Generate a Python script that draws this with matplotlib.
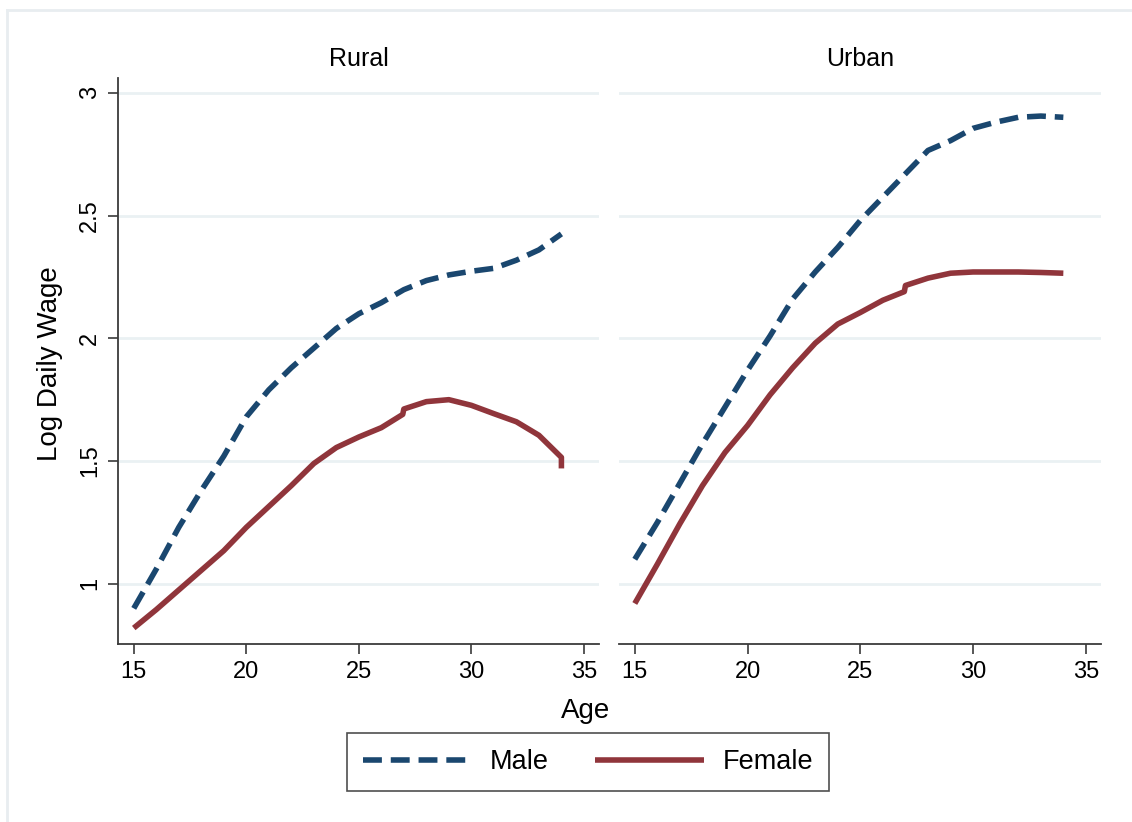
#plot log daily wage by age, rural vs urban, male vs female
import matplotlib
matplotlib.use('Agg')
import matplotlib.pyplot as plt
from matplotlib.lines import Line2D

plt.rcParams['font.family'] = ['Liberation Sans', 'DejaVu Sans']

#----------------------------------------------
# values
#----------------------------------------------
rural_age_m = [15, 16, 17, 18, 19, 20, 21, 22, 23, 24, 25, 26, 27, 28, 29, 30, 31, 32, 33, 34]
rural_male = [0.90, 1.06, 1.23, 1.38, 1.52, 1.68, 1.79, 1.88, 1.96, 2.04, 2.10, 2.145, 2.198,
              2.235, 2.258, 2.273, 2.285, 2.318, 2.36, 2.425]

rural_age_f = [15, 16, 17, 18, 19, 20, 21, 22, 23, 24, 25, 26, 26.95, 27, 28, 29, 30, 31, 32, 33, 34, 34]
rural_female = [0.82, 0.895, 0.975, 1.055, 1.135, 1.23, 1.315, 1.40, 1.49, 1.555, 1.598, 1.636, 1.69,
                1.712, 1.742, 1.75, 1.727, 1.693, 1.66, 1.605, 1.515, 1.47]

urban_age_m = [15, 16, 17, 18, 19, 20, 21, 22, 23, 24, 25, 26, 27, 28, 29, 30, 31, 32, 33, 34]
urban_male = [1.10, 1.25, 1.41, 1.57, 1.72, 1.87, 2.01, 2.16, 2.27, 2.37, 2.48, 2.575, 2.67,
              2.765, 2.805, 2.855, 2.88, 2.90, 2.905, 2.90]

urban_age_f = [15, 16, 17, 18, 19, 20, 21, 22, 23, 24, 25, 26, 26.95, 27, 28, 29, 30, 31, 32, 33, 34]
urban_female = [0.92, 1.08, 1.245, 1.40, 1.535, 1.645, 1.77, 1.88, 1.98, 2.058, 2.105, 2.155, 2.19,
                2.215, 2.245, 2.265, 2.27, 2.27, 2.27, 2.268, 2.265]

yticks = [1, 1.5, 2, 2.5, 3]
ytick_labels = ['1', '1.5', '2', '2.5', '3']
xticks = [15, 20, 25, 30, 35]

navy = '#1a476f'
maroon = '#90353b'
grid_c = '#eaf1f3'
axis_c = '#3a3a3a'

W, H = 1132, 822
fig = plt.figure(figsize=(W / 100, H / 100), dpi=100)
fig.patch.set_facecolor('white')

# faint outer frame like the stata graph region
fig.add_artist(Line2D([7 / W, 1], [1 - 10 / H, 1 - 10 / H], transform=fig.transFigure, color='#e8edf0', lw=2))
fig.add_artist(Line2D([7 / W, 7 / W], [0, 1 - 10 / H], transform=fig.transFigure, color='#e8edf0', lw=2))

top, bot = 78, 644
ax1 = fig.add_axes([118 / W, 1 - bot / H, (599 - 118) / W, (bot - top) / H])
ax2 = fig.add_axes([619 / W, 1 - bot / H, (1101 - 619) / W, (bot - top) / H])


def drawPanel(ax, title, age_m, male, age_f, female, show_y):
    for y in yticks:
        ax.axhline(y, color=grid_c, lw=2, zorder=0)
    ax.plot(age_m, male, color=navy, lw=4, ls=(0, (3.4, 1.6)), dash_capstyle='butt', label='Male')
    ax.plot(age_f, female, color=maroon, lw=4, solid_capstyle='butt', label='Female')
    ax.set_xlim(14.3, 35.67)
    ax.set_ylim(0.755, 3.06)
    ax.set_xticks(xticks)
    ax.set_xticklabels([str(x) for x in xticks])
    ax.set_title(title, fontsize=18, pad=9)
    for s in ['top', 'right']:
        ax.spines[s].set_visible(False)
    ax.spines['bottom'].set_color(axis_c)
    ax.spines['bottom'].set_linewidth(1.3)
    ax.tick_params(axis='x', length=7, width=1.2, color=axis_c, labelsize=17, pad=5)
    if show_y:
        ax.spines['left'].set_color(axis_c)
        ax.spines['left'].set_linewidth(1.3)
        ax.set_yticks(yticks)
        ax.set_yticklabels(ytick_labels, rotation=90, va='center')
        ax.tick_params(axis='y', length=7, width=1.2, color=axis_c, labelsize=17, pad=5)
    else:
        ax.spines['left'].set_visible(False)
        ax.set_yticks([])


drawPanel(ax1, 'Rural', rural_age_m, rural_male, rural_age_f, rural_female, True)
drawPanel(ax2, 'Urban', urban_age_m, urban_male, urban_age_f, urban_female, False)

fig.text(50 / W, 1 - 364 / H, 'Log Daily Wage', rotation=90, ha='center', va='center', fontsize=20)
fig.text(586 / W, 1 - 711 / H, 'Age', ha='center', va='center', fontsize=20)

handles, labels = ax1.get_legend_handles_labels()
leg = fig.legend(handles, labels, loc='center', bbox_to_anchor=(588 / W, 1 - 762 / H), ncol=2,
                 fontsize=19.5, frameon=True, fancybox=False, handlelength=4.0, handletextpad=0.7,
                 columnspacing=1.7, borderpad=0.6, borderaxespad=0)
leg.get_frame().set_edgecolor('#222222')
leg.get_frame().set_linewidth(1.2)

fig.savefig('out.png', dpi=100)
